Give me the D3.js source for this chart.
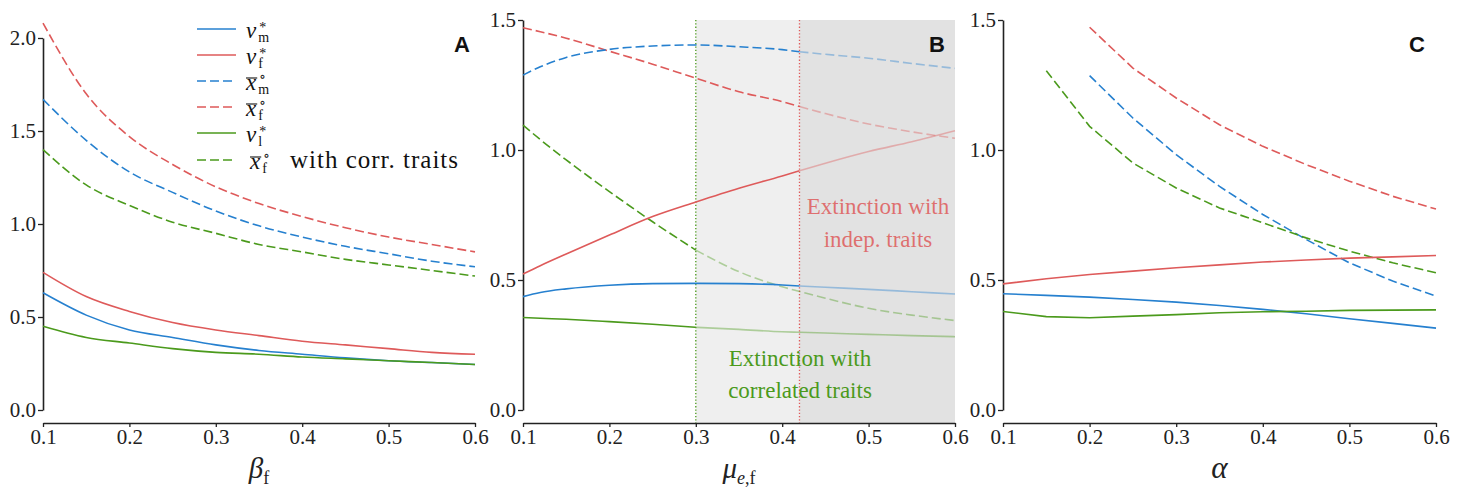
<!DOCTYPE html>
<html>
<head>
<meta charset="utf-8">
<script src="https://cdn.jsdelivr.net/npm/d3@7"></script>
<style>
  body { margin: 0; background: #fff; }
  svg text { font-family: "Liberation Serif", "Times New Roman", "DejaVu Serif", serif; }
  svg text.sans { font-family: "Liberation Sans", Arial, "DejaVu Sans", sans-serif; }
</style>
</head>
<body>
<div id="chart"></div>
<script>
// ---- data ----
// panel A : beta_f
const xA = [0.1, 0.15, 0.2, 0.25, 0.3, 0.35, 0.4, 0.45, 0.5, 0.55, 0.6];
const aVm  = [0.63, 0.51, 0.43, 0.39, 0.35, 0.32, 0.30, 0.28, 0.265, 0.255, 0.245];
const aVf  = [0.74, 0.61, 0.53, 0.47, 0.43, 0.40, 0.37, 0.35, 0.33, 0.31, 0.30];
const aXm  = [1.67, 1.45, 1.28, 1.17, 1.07, 0.99, 0.93, 0.88, 0.84, 0.80, 0.77];
const aXf  = [2.08, 1.70, 1.47, 1.32, 1.20, 1.11, 1.04, 0.98, 0.93, 0.89, 0.85];
const aVl  = [0.45, 0.39, 0.36, 0.33, 0.31, 0.30, 0.285, 0.275, 0.265, 0.255, 0.245];
const aXfc = [1.40, 1.21, 1.10, 1.01, 0.95, 0.89, 0.85, 0.81, 0.78, 0.75, 0.72];

// panel B : mu_e,f
const xB = [0.1, 0.12, 0.15, 0.2, 0.25, 0.3, 0.35, 0.4, 0.42, 0.45, 0.5, 0.55, 0.6];
const bVm  = [0.436, 0.452, 0.466, 0.48, 0.486, 0.487, 0.486, 0.481, 0.477, 0.472, 0.464, 0.455, 0.446];
const bVf  = [0.523, 0.555, 0.60, 0.673, 0.744, 0.80, 0.853, 0.90, 0.92, 0.949, 0.994, 1.032, 1.074];
const bXm  = [1.288, 1.32, 1.356, 1.387, 1.40, 1.404, 1.397, 1.386, 1.378, 1.368, 1.353, 1.333, 1.314];
const bXf  = [1.47, 1.455, 1.43, 1.38, 1.33, 1.276, 1.224, 1.186, 1.167, 1.14, 1.10, 1.07, 1.045];
const bVl  = [0.356, 0.353, 0.349, 0.34, 0.33, 0.318, 0.31, 0.301, 0.299, 0.296, 0.291, 0.286, 0.282];
const bXfc = [1.096, 1.04, 0.962, 0.84, 0.724, 0.615, 0.532, 0.474, 0.456, 0.43, 0.391, 0.365, 0.344];
const cutIndep = 0.42;   // extinction with independent traits
const cutCorr = 0.3;     // extinction with correlated traits

// panel C : alpha
const xC = [0.1, 0.15, 0.2, 0.25, 0.3, 0.35, 0.4, 0.45, 0.5, 0.55, 0.6];
const cVm  = [0.447, 0.441, 0.434, 0.425, 0.415, 0.402, 0.387, 0.37, 0.351, 0.333, 0.315];
const cVf  = [0.485, 0.505, 0.521, 0.534, 0.547, 0.558, 0.569, 0.577, 0.584, 0.589, 0.594];
const cXm  = [null, null, 1.286, 1.123, 0.982, 0.86, 0.752, 0.656, 0.566, 0.496, 0.438];
const cXf  = [null, null, 1.472, 1.315, 1.20, 1.097, 1.014, 0.944, 0.88, 0.822, 0.773];
const cVl  = [0.379, 0.359, 0.355, 0.361, 0.367, 0.374, 0.378, 0.38, 0.383, 0.384, 0.385];
const cXfc = [null, 1.305, 1.091, 0.95, 0.854, 0.777, 0.72, 0.662, 0.611, 0.566, 0.528];

const xTicks = [0.1, 0.2, 0.3, 0.4, 0.5, 0.6];

// ---- styles ----
const BLUE = "#2680cf", RED = "#de5a5a", GREEN = "#4b9a1c";
const DASH = "9,4";

const W = 1468, H = 494;
const svg = d3.select("#chart").append("svg")
  .attr("width", W).attr("height", H);

const yBottom = 410, xAxisY = 423;

function seriesSet(xs, vm, vf, xm, xf, vl, xfc) {
  const mk = arr => xs.map((x, i) => ({ x: x, v: arr[i] }));
  return [
    { key: "xf", color: RED, dash: true, pts: mk(xf), cut: cutIndep },
    { key: "xm", color: BLUE, dash: true, pts: mk(xm), cut: cutIndep },
    { key: "xfc", color: GREEN, dash: true, pts: mk(xfc), cut: cutCorr },
    { key: "vf", color: RED, dash: false, pts: mk(vf), cut: cutIndep },
    { key: "vm", color: BLUE, dash: false, pts: mk(vm), cut: cutIndep },
    { key: "vl", color: GREEN, dash: false, pts: mk(vl), cut: cutCorr }
  ];
}

function panel(opt) {
  const g = svg.append("g");
  const x = d3.scaleLinear().domain([0.1, 0.6]).range([opt.left, opt.right]);
  const y = d3.scaleLinear().domain([0, opt.yMax]).range([yBottom, opt.yTopPx]);

  // shaded extinction regions
  if (opt.shade) {
    g.append("rect")
      .attr("x", x(cutCorr)).attr("y", y(opt.yMax))
      .attr("width", x(cutIndep) - x(cutCorr)).attr("height", xAxisY - y(opt.yMax))
      .attr("fill", "#efefef");
    g.append("rect")
      .attr("x", x(cutIndep)).attr("y", y(opt.yMax))
      .attr("width", x(0.6) - x(cutIndep)).attr("height", xAxisY - y(opt.yMax))
      .attr("fill", "#e2e2e2");
    [[cutCorr, GREEN], [cutIndep, RED]].forEach(([c, col]) => {
      g.append("line")
        .attr("x1", x(c)).attr("x2", x(c))
        .attr("y1", y(opt.yMax)).attr("y2", xAxisY)
        .attr("stroke", col).attr("stroke-width", 1.3)
        .attr("stroke-dasharray", "1.3,2");
    });
  }

  // y axis
  const yTicks = d3.range(0, opt.yMax + 0.001, 0.5);
  const ya = g.append("g")
    .attr("transform", `translate(${opt.left},0)`)
    .call(d3.axisLeft(y).tickValues(yTicks).tickFormat(d3.format(".1f")).tickSize(5).tickSizeOuter(0).tickPadding(2));
  // x axis
  const xa = g.append("g")
    .attr("transform", `translate(0,${xAxisY})`)
    .call(d3.axisBottom(x).tickValues(xTicks).tickFormat(d3.format(".1f")).tickSize(4).tickSizeOuter(0).tickPadding(2));
  [ya, xa].forEach(a => {
    a.attr("font-family", null).attr("font-size", null);
    a.select(".domain").attr("stroke", "#222").attr("stroke-width", 1.6);
    a.selectAll(".tick line").attr("stroke", "#222").attr("stroke-width", 1.3);
    a.selectAll(".tick text").attr("fill", "#222").style("font-size", "21px");
  });

  // lines
  const line = d3.line()
    .defined(d => d.v != null)
    .x(d => x(d.x)).y(d => y(d.v))
    .curve(opt.smooth ? d3.curveMonotoneX : d3.curveLinear);

  opt.series.forEach(s => {
    const pts = s.pts.filter(d => d.v != null);
    const parts = opt.fade
      ? [{ p: pts.filter(d => d.x >= s.cut - 1e-9), o: 0.4 }, { p: pts.filter(d => d.x <= s.cut + 1e-9), o: 1 }]
      : [{ p: pts, o: 1 }];
    parts.forEach(part => {
      g.append("path")
        .datum(part.p)
        .attr("d", line)
        .attr("fill", "none")
        .attr("stroke", s.color)
        .attr("stroke-opacity", part.o)
        .attr("stroke-width", 1.6)
        .attr("stroke-dasharray", s.dash ? DASH : null);
    });
  });

  // panel letter
  g.append("text")
    .attr("class", "sans")
    .attr("x", opt.letterX).attr("y", 52)
    .attr("text-anchor", "middle")
    .style("font-weight", "bold").style("font-size", "22px")
    .attr("fill", "#111")
    .text(opt.letter);

  // x label
  const lab = g.append("text")
    .attr("x", (opt.left + opt.right) / 2).attr("y", 478)
    .attr("text-anchor", "middle")
    .attr("fill", "#222");
  opt.xlabel(lab);

  return { g, x, y };
}

// ---- panel A ----
panel({
  left: 43, right: 475, yMax: 2.0, yTopPx: 38,
  series: seriesSet(xA, aVm, aVf, aXm, aXf, aVl, aXfc),
  smooth: true,
  letter: "A", letterX: 462,
  xlabel: t => {
    t.append("tspan").style("font-style", "italic").style("font-size", "29px").text("β");
    t.append("tspan").style("font-size", "18px").attr("dy", 6).text("f");
  }
});

// ---- panel B ----
panel({
  left: 523, right: 955, yMax: 1.5, yTopPx: 20,
  series: seriesSet(xB, bVm, bVf, bXm, bXf, bVl, bXfc),
  shade: true, fade: true, smooth: true,
  letter: "B", letterX: 937,
  xlabel: t => {
    t.append("tspan").style("font-style", "italic").style("font-size", "29px").text("μ");
    t.append("tspan").style("font-style", "italic").style("font-size", "18px").attr("dy", 6).text("e");
    t.append("tspan").style("font-size", "18px").text(",f");
  }
});

// annotations in B
[["Extinction with", 214], ["indep. traits", 247]].forEach(([s, yy]) => {
  svg.append("text").attr("x", 878).attr("y", yy).attr("text-anchor", "middle")
    .style("font-size", "23px").attr("fill", RED).attr("fill-opacity", 0.85).text(s);
});
[["Extinction with", 366], ["correlated traits", 398]].forEach(([s, yy]) => {
  svg.append("text").attr("x", 800).attr("y", yy).attr("text-anchor", "middle")
    .style("font-size", "23px").attr("fill", GREEN).text(s);
});

// ---- panel C ----
panel({
  left: 1003, right: 1436, yMax: 1.5, yTopPx: 20,
  series: seriesSet(xC, cVm, cVf, cXm, cXf, cVl, cXfc),
  letter: "C", letterX: 1417,
  xlabel: t => {
    t.append("tspan").style("font-style", "italic").style("font-size", "31px").text("α");
  }
});

// ---- legend (in panel A) ----
const legendItems = [
  { color: BLUE, dash: false, bar: false, sup: "*", sub: "m", base: "v" },
  { color: RED, dash: false, bar: false, sup: "*", sub: "f", base: "v" },
  { color: BLUE, dash: true, bar: true, sup: "∘", sub: "m", base: "x" },
  { color: RED, dash: true, bar: true, sup: "∘", sub: "f", base: "x" },
  { color: GREEN, dash: false, bar: false, sup: "*", sub: "l", base: "v" },
  { color: GREEN, dash: true, bar: true, sup: "∘", sub: "f", base: "x", extra: "with corr. traits" }
];
const legY = [29, 55, 81, 107, 133, 160];
const leg = svg.append("g");
legendItems.forEach((d, i) => {
  const ly = legY[i];
  leg.append("line")
    .attr("x1", 197).attr("x2", 236).attr("y1", ly).attr("y2", ly)
    .attr("stroke", d.color).attr("stroke-width", 1.6)
    .attr("stroke-dasharray", d.dash ? DASH : null);
  const bx = d.extra ? 250 : 246;
  const base = leg.append("text")
    .attr("x", bx).attr("y", ly + 9)
    .style("font-style", "italic").style("font-size", "23px").attr("fill", "#111")
    .text(d.base);
  const bw = base.node().getComputedTextLength();
  if (d.bar) {
    leg.append("line")
      .attr("x1", bx).attr("x2", bx + bw + 1)
      .attr("y1", ly - 3).attr("y2", ly - 3)
      .attr("stroke", "#111").attr("stroke-width", 1.1);
  }
  // superscript and subscript stacked in one text element
  const sx = bx + bw + 2;
  const ss = leg.append("text")
    .attr("x", sx + 1).attr("y", d.sup === "*" ? ly + 3 : ly)
    .attr("fill", "#111");
  ss.append("tspan").style("font-size", "14px").text(d.sup);
  ss.append("tspan").attr("x", sx).attr("y", ly + 13).style("font-size", "14px").text(d.sub);
  if (d.extra) {
    leg.append("text")
      .attr("x", 290).attr("y", ly + 8)
      .style("font-size", "25px").attr("fill", "#111")
      .attr("textLength", 168).attr("lengthAdjust", "spacing")
      .text(d.extra);
  }
});
</script>
</body>
</html>
